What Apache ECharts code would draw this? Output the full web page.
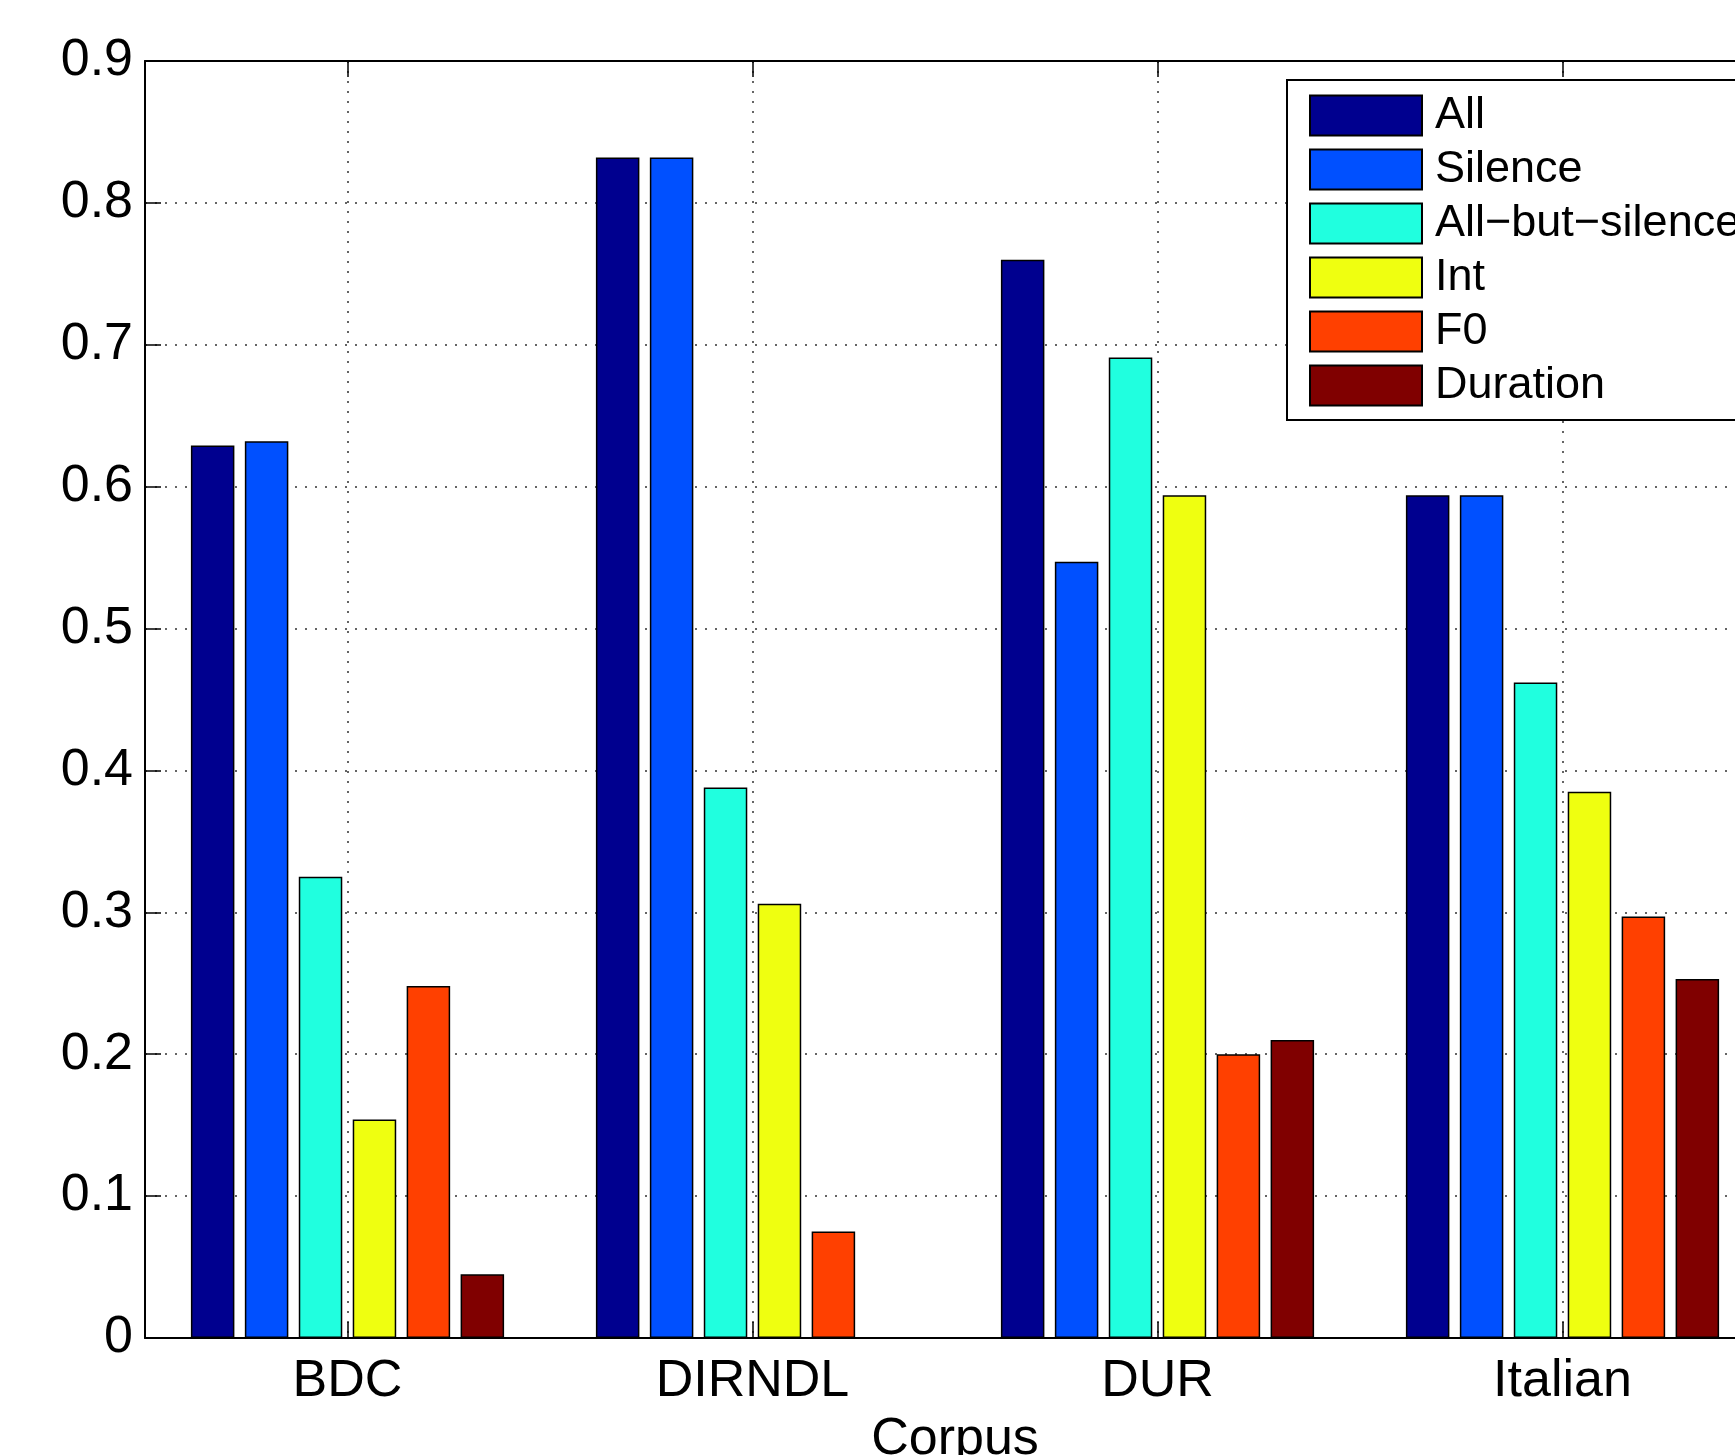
<!DOCTYPE html>
<html>
<head>
<meta charset="utf-8">
<script src="https://cdn.jsdelivr.net/npm/echarts@6/dist/echarts.min.js"></script>
<style>
html,body{margin:0;padding:0;background:#fff;overflow:hidden;}
#chart{width:1735px;height:1455px;}
</style>
</head>
<body>
<div id="chart"></div>
<script>
const categories = ['BDC', 'DIRNDL', 'DUR', 'Italian'];
const seriesNames = ['All', 'Silence', 'All\u2212but\u2212silence', 'Int', 'F0', 'Duration'];
const seriesColors = ['#00008F', '#0050FF', '#20FFDF', '#EFFF10', '#FF4000', '#800000'];
const valAll = [0.629, 0.832, 0.760, 0.594];
const valSilence = [0.632, 0.832, 0.547, 0.594];
const valAllButSilence = [0.325, 0.388, 0.691, 0.462];
const valInt = [0.154, 0.306, 0.594, 0.385];
const valF0 = [0.248, 0.075, 0.200, 0.297];
const valDuration = [0.045, 0, 0.210, 0.253];
const yTicks = [0, 0.1, 0.2, 0.3, 0.4, 0.5, 0.6, 0.7, 0.8, 0.9];

const allValues = [valAll, valSilence, valAllButSilence, valInt, valF0, valDuration];
const FONT = '"Liberation Sans", Arial, Helvetica, sans-serif';

// helper axis for dotted vertical grid lines at category centres
const halfSlots = [];
for (let i = 0; i < categories.length * 2 + 1; i++) halfSlots.push(String(i));

const chart = echarts.init(document.getElementById('chart'), null, {renderer: 'canvas'});
chart.setOption({
  animation: false,
  backgroundColor: '#ffffff',
  textStyle: {fontFamily: FONT},
  grid: {left: 145, top: 61, width: 1620, height: 1277, containLabel: false, outerBoundsMode: 'none'},
  legend: {
    orient: 'vertical',
    left: 1287, top: 80,
    padding: [13, 200, 12, 22],
    icon: 'rect',
    itemWidth: 112, itemHeight: 40, itemGap: 9,
    backgroundColor: '#ffffff',
    borderColor: '#000', borderWidth: 2,
    textStyle: {fontFamily: FONT, fontSize: 45, color: '#000', padding: [0, 0, 0, 8]},
    data: seriesNames
  },
  xAxis: [
    {
      type: 'category', data: categories, position: 'bottom',
      axisLine: {show: true, lineStyle: {color: '#000', width: 2}},
      axisTick: {show: true, inside: true, length: 16, alignWithLabel: true, lineStyle: {color: '#000', width: 1.5}},
      axisLabel: {fontSize: 52, color: '#000', margin: 18, fontFamily: FONT},
      splitLine: {show: false},
      name: 'Corpus', nameLocation: 'middle', nameGap: 76,
      nameTextStyle: {fontSize: 52, color: '#000', fontFamily: FONT}
    },
    {
      type: 'category', data: categories, position: 'top',
      axisLine: {show: true, lineStyle: {color: '#000', width: 2}},
      axisTick: {show: true, inside: true, length: 16, alignWithLabel: true, lineStyle: {color: '#000', width: 1.5}},
      axisLabel: {show: false},
      splitLine: {show: false}
    },
    {
      type: 'category', data: halfSlots, boundaryGap: false, position: 'bottom',
      axisLine: {show: false}, axisTick: {show: false}, axisLabel: {show: false},
      splitLine: {show: true, interval: function (i) { return i % 2 === 1; },
        lineStyle: {color: '#333', width: 1.5, type: [2, 8]}}
    }
  ],
  yAxis: {
    type: 'value', min: 0, max: 0.9, interval: 0.1,
    axisLine: {show: true, lineStyle: {color: '#000', width: 2}},
    axisTick: {show: true, inside: true, length: 16, lineStyle: {color: '#000', width: 1.5}},
    axisLabel: {fontSize: 52, color: '#000', margin: 12, fontFamily: FONT,
      formatter: function (v) { return v === 0 ? '0' : v.toFixed(1); }},
    splitLine: {show: true, lineStyle: {color: '#333', width: 1.5, type: [2, 8]}}
  },
  series: seriesNames.map(function (name, k) {
    return {
      name: name, type: 'bar', xAxisIndex: 0,
      data: allValues[k],
      barWidth: 43.5, barGap: '24%',
      itemStyle: {color: seriesColors[k], borderColor: '#000', borderWidth: 1.5}
    };
  })
});
</script>
</body>
</html>
